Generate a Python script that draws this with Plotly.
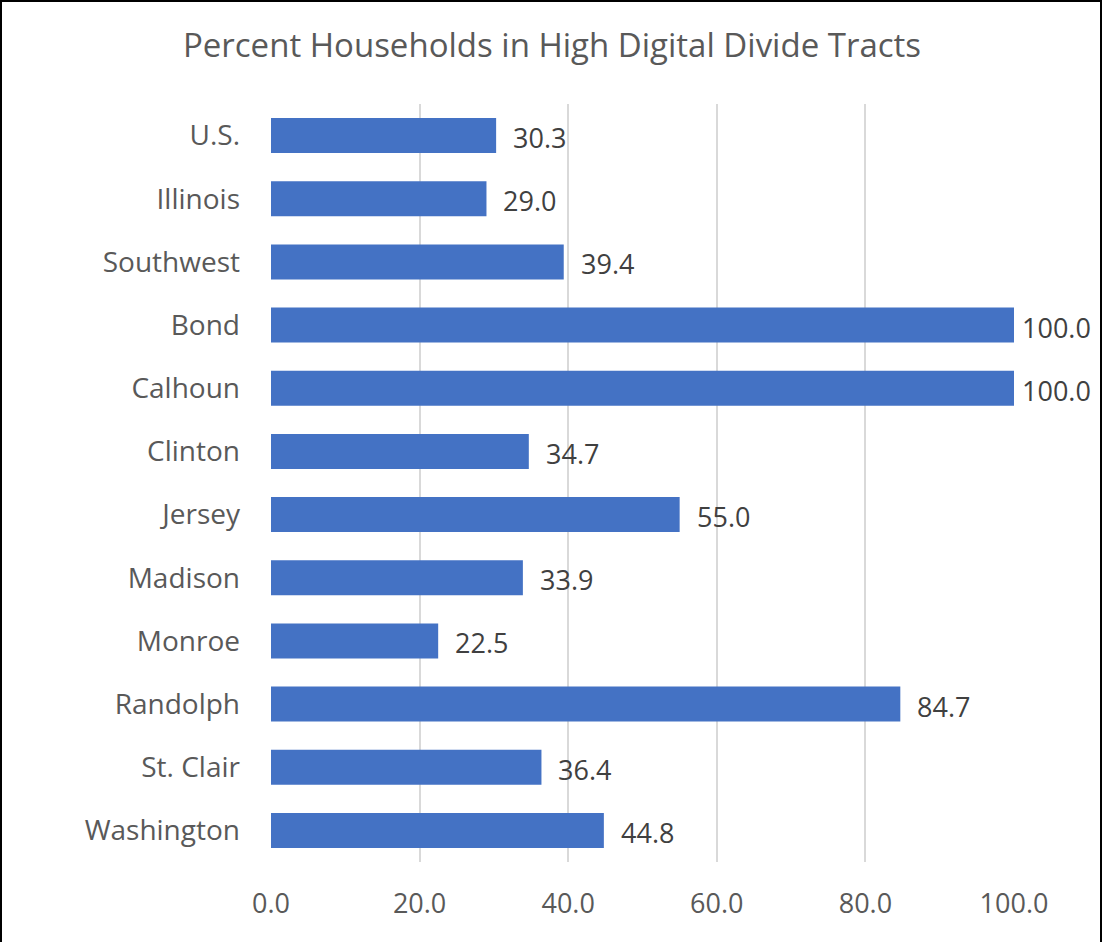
import plotly.graph_objects as go

# categories top to bottom, as in the reference
places = ["U.S.", "Illinois", "Southwest", "Bond", "Calhoun", "Clinton",
          "Jersey", "Madison", "Monroe", "Randolph", "St. Clair", "Washington"]
pct_high_divide = [30.3, 29.0, 39.4, 100.0, 100.0, 34.7,
                   55.0, 33.9, 22.5, 84.7, 36.4, 44.8]
x_ticks = [0, 20, 40, 60, 80, 100]

font_name = "Open Sans"
grey = "#595959"

fig = go.Figure()
fig.add_trace(go.Bar(
    x=pct_high_divide, y=places, orientation="h",
    marker=dict(color="#4472C4", line=dict(width=0)),
    hoverinfo="x+y",
))

# data labels (Excel nudges the 100.0 ones left to fit inside the frame)
for p, v in zip(places, pct_high_divide):
    fig.add_annotation(
        x=v, y=p, text=f"{v:.1f}", showarrow=False,
        xanchor="left", yanchor="middle",
        xshift=15 if v < 100 else 6, yshift=-2,
        font=dict(family=font_name, size=27, color="#404040"),
    )

fig.update_layout(
    width=1104, height=942,
    margin=dict(l=271, r=90, t=104, b=80),
    paper_bgcolor="white", plot_bgcolor="white",
    bargap=0.445, showlegend=False,
    title=dict(text="Percent Households in High Digital Divide Tracts",
               x=0.5, xanchor="center", y=0.952, yanchor="middle",
               font=dict(family=font_name, size=33, color=grey)),
    font=dict(family=font_name, color=grey),
)
fig.update_xaxes(
    range=[0, 100], tickvals=x_ticks, tickformat=".1f",
    showgrid=True, gridcolor="#D9D9D9", gridwidth=2,
    zeroline=False, showline=False, ticks="",
    ticklabelstandoff=23,
    tickfont=dict(family=font_name, size=27, color=grey),
)
fig.update_yaxes(
    autorange="reversed", showgrid=False, zeroline=False,
    showline=False, ticks="", ticklabelstandoff=30,
    tickfont=dict(family=font_name, size=28, color=grey),
)

# black frame around the whole picture, in paper units
w_plot = 1104 - 271 - 90
h_plot = 942 - 104 - 80
fig.add_shape(type="rect", xref="paper", yref="paper",
              x0=-270 / w_plot, x1=(1101 - 271) / w_plot,
              y0=-82 / h_plot, y1=(h_plot + 103) / h_plot,
              line=dict(color="black", width=2), layer="above")

fig.write_html(
    "out.html",
    config={"displayModeBar": False},
    post_script="document.body.style.margin='0';document.body.style.overflow='hidden';",
)
